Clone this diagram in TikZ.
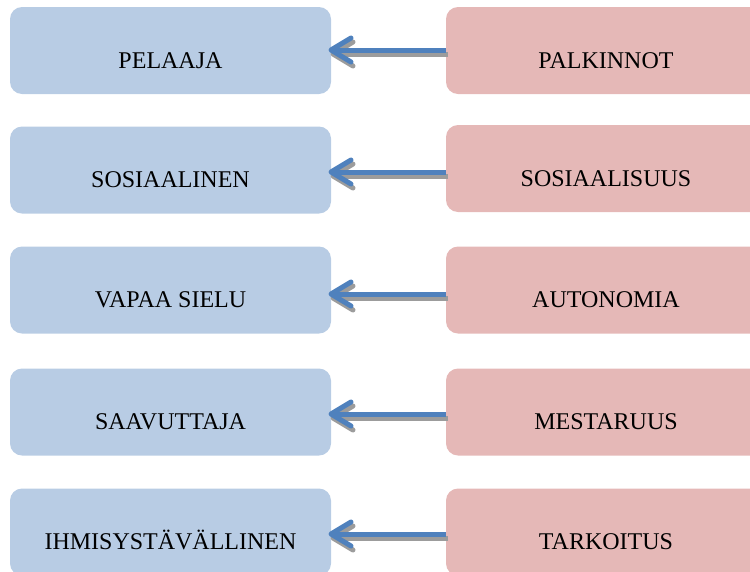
\documentclass[tikz,border=0pt]{standalone}
\usepackage{fontspec}
\setmainfont{Liberation Serif}
\usetikzlibrary{calc}
\definecolor{lblue}{HTML}{B8CCE4}
\definecolor{lred}{HTML}{E5B8B7}
\definecolor{arrblue}{HTML}{4F81BD}
\definecolor{shade}{HTML}{9C9C9C}
\begin{document}
\begin{tikzpicture}[x=1pt,y=-1pt,
  boxstyle/.style={rounded corners=12pt,inner sep=0pt,minimum width=321pt,minimum height=87pt,
    text height=36pt,text depth=1pt,font=\fontsize{24}{28}\selectfont},
  typebox/.style={boxstyle,fill=lblue},
  rewardbox/.style={boxstyle,fill=lred,minimum width=320pt},
  linkline/.style={draw=arrblue,line width=5pt,line join=round},
  linkshade/.style={draw=shade,line width=5pt,line join=round}]
\useasboundingbox (0,0) rectangle (750,571);
\begin{scope}
\clip (0,0) rectangle (750,571);
% left column: player types
\node[typebox] (p1) at (170.5,50.5) {PELAAJA};
\node[typebox] (p2) at (170.5,170) {SOSIAALINEN};
\node[typebox] (p3) at (170.5,290) {VAPAA SIELU};
\node[typebox] (p4) at (170.5,412) {SAAVUTTAJA};
\node[typebox] (p5) at (170.5,532) {IHMISYSTÄVÄLLINEN};
% right column: motivators
\node[rewardbox] (m1) at (606,50.5) {PALKINNOT};
\node[rewardbox] (m2) at (606,168.5) {SOSIAALISUUS};
\node[rewardbox] (m3) at (606,290) {AUTONOMIA};
\node[rewardbox] (m4) at (606,412) {MESTARUUS};
\node[rewardbox] (m5) at (606,532) {TARKOITUS};
\end{scope}
% arrows from each motivator to its player type, with a soft drop shadow
\foreach \i/\yy in {1/50,2/172,3/294,4/414,5/534}{
  \coordinate (s\i) at (446,\yy);
  \coordinate (t\i) at (331,\yy);
  \draw[linkshade] ([shift={(2,4)}]s\i) -- ([shift={(2,4)}]t\i);
  \draw[linkshade,line cap=round] ([shift={(22,-8)}]t\i) -- ([shift={(2,4)}]t\i) -- ([shift={(22,16)}]t\i);
  \draw[linkline] (s\i) -- (t\i);
  \draw[linkline,line cap=round] ([shift={(20,-12)}]t\i) -- (t\i) -- ([shift={(20,12)}]t\i);
}
\end{tikzpicture}
\end{document}
